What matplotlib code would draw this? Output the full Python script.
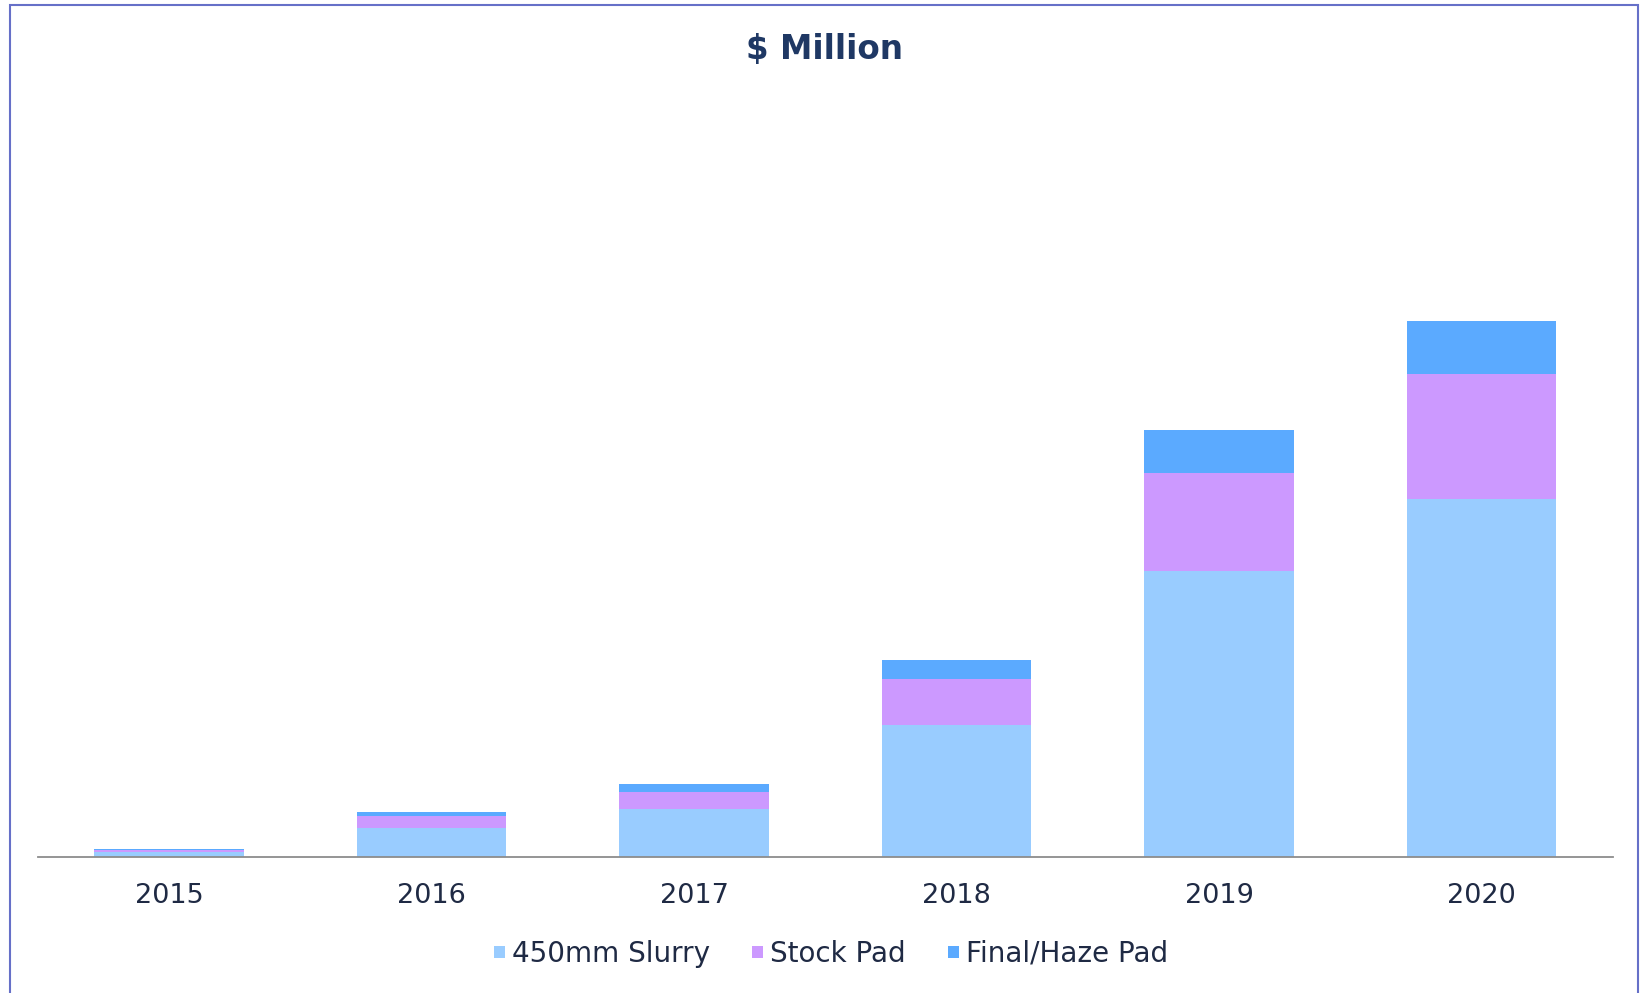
import matplotlib.pyplot as plt
from matplotlib.patches import Rectangle

# Market size by year, $ Million
years = ["2015", "2016", "2017", "2018", "2019", "2020"]
slurry_450mm = [0.55, 2.9, 4.8, 13.2, 28.6, 35.8]
stock_pad = [0.15, 1.2, 1.7, 4.6, 9.8, 12.5]
final_haze_pad = [0.12, 0.4, 0.8, 1.9, 4.3, 5.3]

slurry_color = "#99CCFF"
stock_color = "#CC99FF"
haze_color = "#5BAAFF"
text_color = "#1F2A44"
title_color = "#1F3864"

plt.rcParams["font.family"] = ["DejaVu Sans"]

fig = plt.figure(figsize=(16.42, 9.93), dpi=100)
W, H = 1642, 993

# plot area placed in pixel terms
left, right, base, top = 37.75, 1612.75, 857, 100
ax = fig.add_axes([left / W, 1 - base / H, (right - left) / W, (base - top) / H])

x = list(range(len(years)))
width = 0.571
bottom2 = slurry_450mm
bottom3 = [a + b for a, b in zip(slurry_450mm, stock_pad)]

ax.bar(x, slurry_450mm, width, color=slurry_color, label="450mm Slurry")
ax.bar(x, stock_pad, width, bottom=bottom2, color=stock_color, label="Stock Pad")
ax.bar(x, final_haze_pad, width, bottom=bottom3, color=haze_color,
       label="Final/Haze Pad")

ax.set_xlim(-0.5, len(years) - 0.5)
ax.set_ylim(0, 75.7)

ax.set_xticks(x)
ax.set_xticklabels(years, fontsize=19.5, color=text_color)
ax.tick_params(axis="x", length=0, pad=19)
ax.set_yticks([])
for side in ["top", "right", "left"]:
    ax.spines[side].set_visible(False)
ax.spines["bottom"].set_color("#8C8C8C")
ax.spines["bottom"].set_linewidth(1.3)

fig.text(824 / W, 1 - 50 / H, "$ Million", ha="center", va="center",
         fontsize=23.5, fontweight="bold", color=title_color)

leg = fig.legend(loc="center", bbox_to_anchor=(831 / W, 1 - 954 / H), ncol=3,
                 frameon=False, fontsize=20, handlelength=0.42, handleheight=0.3,
                 handletextpad=0.25, columnspacing=1.5)
for t in leg.get_texts():
    t.set_color(text_color)

# thin outline around the chart area
fig.patches.append(Rectangle((10 / W, -0.01), (1638 - 10) / W, 1 - 5 / H + 0.01,
                             transform=fig.transFigure, fill=False,
                             edgecolor="#6670C8", linewidth=1.5))

fig.savefig("out.png", dpi=100, facecolor="white")
